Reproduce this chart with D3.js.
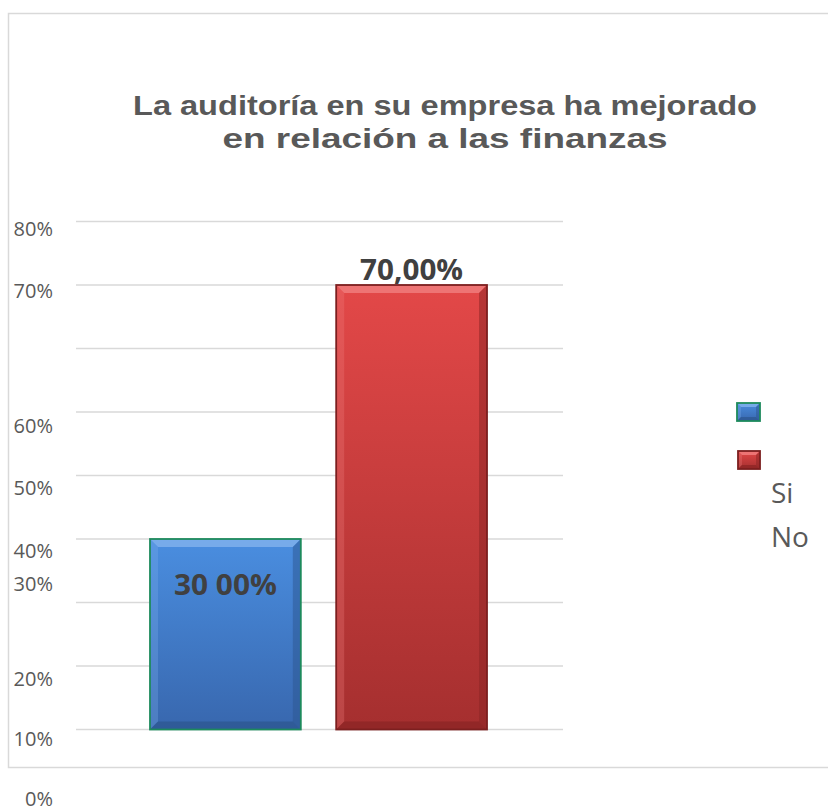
<!DOCTYPE html>
<html>
<head>
<meta charset="utf-8">
<script src="https://cdn.jsdelivr.net/npm/d3@7"></script>
<style>
  body { margin: 0; background: #fff; }
  svg { display: block; font-family: "Open Sans", "Noto Sans", sans-serif; }
</style>
</head>
<body>
<div id="chart"></div>
<script>
// chart data
const categories = ["Si", "No"];
const values = [30, 70];
const valueLabels = ["30 00%", "70,00%"];
const tickValues = [0, 10, 20, 30, 40, 50, 60, 70, 80];
const tickLabels = ["0%", "10%", "20%", "30%", "40%", "50%", "60%", "70%", "80%"];
// where each tick label sits on the value axis (labels are shifted in the source)
const tickLabelAt = [-10.9, -1.4, 8.0, 22.9, 28.2, 38.1, 47.8, 69.1, 78.9];
const titleLines = ["La auditoría en su empresa ha mejorado", "en relación a las finanzas"];

const W = 828, H = 811;

// fill colours per bar
const palette = [
  { top: "#4a8ee0", bottom: "#3867ae", border: "#1d8a5c", light: "#7fb0ec", dark: "#2c568f" },
  { top: "#e34848", bottom: "#a52f2f", border: "#7c1f1f", light: "#f07d7d", dark: "#8a2424" }
];

const svg = d3.select("#chart").append("svg")
  .attr("width", W)
  .attr("height", H);

const defs = svg.append("defs");
palette.forEach((p, i) => {
  const g = defs.append("linearGradient")
    .attr("id", "grad" + i)
    .attr("x1", 0).attr("y1", 0).attr("x2", 0).attr("y2", 1);
  g.append("stop").attr("offset", "0%").attr("stop-color", p.top);
  g.append("stop").attr("offset", "100%").attr("stop-color", p.bottom);
});

// outer frame
svg.append("rect")
  .attr("x", 8.5).attr("y", 13.5)
  .attr("width", 830).attr("height", 754)
  .attr("fill", "none")
  .attr("stroke", "#d9d9d9")
  .attr("stroke-width", 1.5);

// title (condensed to the source width)
svg.append("g").selectAll("text")
  .data(titleLines)
  .enter()
  .append("text")
  .attr("x", 445)
  .attr("y", (d, i) => 115 + i * 33)
  .attr("text-anchor", "middle")
  .attr("font-family", "'Liberation Sans', Arial, sans-serif")
  .attr("font-weight", "bold")
  .attr("font-size", 28.5)
  .attr("fill", "#595959")
  .attr("textLength", (d, i) => i === 0 ? 624 : 445)
  .attr("lengthAdjust", "spacingAndGlyphs")
  .text(d => d);

// scales
const y = d3.scaleLinear().domain([0, 80]).range([729.5, 221.5]);
const x = d3.scaleBand().domain(categories).range([150, 487]).paddingInner(0.19);

// gridlines
svg.append("g").selectAll("line")
  .data(tickValues)
  .enter()
  .append("line")
  .attr("x1", 76).attr("x2", 563)
  .attr("y1", d => y(d)).attr("y2", d => y(d))
  .attr("stroke", "#d9d9d9")
  .attr("stroke-width", 1.3);

// tick labels
svg.append("g").selectAll("text")
  .data(tickLabels)
  .enter()
  .append("text")
  .attr("x", 53)
  .attr("y", (d, i) => y(tickLabelAt[i]))
  .attr("dy", "0.36em")
  .attr("text-anchor", "end")
  .attr("font-size", 20)
  .attr("fill", "#595959")
  .text(d => d);

// bevelled box helper
function bevelBox(g, x0, y0, w, h, p, gradId, b) {
  g.append("rect")
    .attr("x", x0).attr("y", y0)
    .attr("width", w).attr("height", h)
    .attr("fill", "url(#" + gradId + ")");
  const x1 = x0 + w, y1 = y0 + h;
  // top edge
  g.append("polygon")
    .attr("points", [[x0, y0], [x1, y0], [x1 - b, y0 + b], [x0 + b, y0 + b]].join(" "))
    .attr("fill", p.light).attr("opacity", 0.85);
  // left edge
  g.append("polygon")
    .attr("points", [[x0, y0], [x0 + b, y0 + b], [x0 + b, y1 - b], [x0, y1]].join(" "))
    .attr("fill", p.light).attr("opacity", 0.3);
  // right edge
  g.append("polygon")
    .attr("points", [[x1, y0], [x1, y1], [x1 - b, y1 - b], [x1 - b, y0 + b]].join(" "))
    .attr("fill", p.dark).attr("opacity", 0.5);
  // bottom edge
  g.append("polygon")
    .attr("points", [[x0, y1], [x0 + b, y1 - b], [x1 - b, y1 - b], [x1, y1]].join(" "))
    .attr("fill", p.dark).attr("opacity", 0.7);
  g.append("rect")
    .attr("x", x0).attr("y", y0)
    .attr("width", w).attr("height", h)
    .attr("fill", "none")
    .attr("stroke", p.border)
    .attr("stroke-width", 1.8);
}

// bars
const bars = svg.append("g");
categories.forEach((c, i) => {
  const g = bars.append("g");
  bevelBox(g, x(c), y(values[i]), x.bandwidth(), y(0) - y(values[i]), palette[i], "grad" + i, 8);
});

// value labels
svg.append("g").selectAll("text")
  .data(values)
  .enter()
  .append("text")
  .attr("x", (d, i) => x(categories[i]) + x.bandwidth() / 2)
  .attr("y", (d, i) => i === 0 ? y(d) + 56 : y(d) - 5)
  .attr("text-anchor", "middle")
  .attr("font-weight", "bold")
  .attr("font-size", 29)
  .attr("fill", "#404040")
  .attr("textLength", 103)
  .attr("lengthAdjust", "spacingAndGlyphs")
  .text((d, i) => valueLabels[i]);

// legend: swatches stacked, labels below
const legend = svg.append("g");
categories.forEach((c, i) => {
  const g = legend.append("g");
  bevelBox(g, 737 + i, 403 + i * 48, 23 - i, 18, palette[i], "grad" + i, 4);
});
legend.selectAll("text")
  .data(categories)
  .enter()
  .append("text")
  .attr("x", 771)
  .attr("y", (d, i) => 503 + i * 44)
  .attr("font-size", 28)
  .attr("fill", "#595959")
  .text(d => d);
</script>
</body>
</html>
